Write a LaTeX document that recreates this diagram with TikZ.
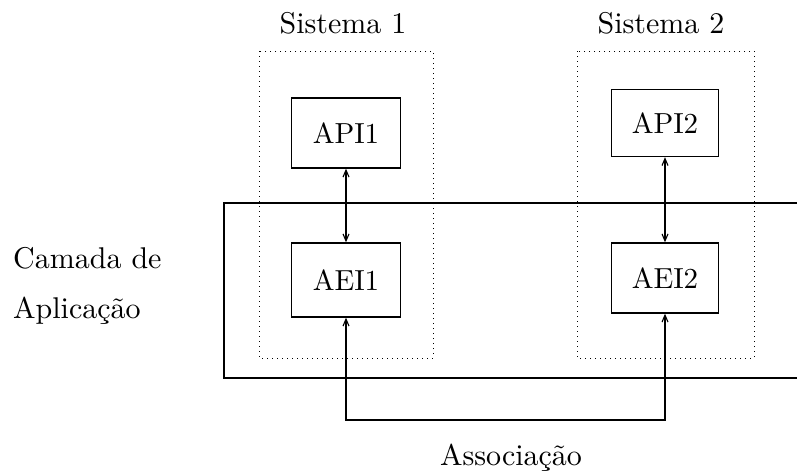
\documentclass[tikz,border=0pt]{standalone}
\usepackage{fontspec}
\newfontfamily\labelfont{lmroman10-regular.otf}
\usetikzlibrary{arrows.meta}
\begin{document}
\begin{tikzpicture}[x=1pt,y=-1pt,
  txt/.style={font=\labelfont\fontsize{30}{36}\selectfont, inner sep=0pt},
  module/.style={draw, line width=1.4pt, inner sep=0pt, font=\labelfont\fontsize{29}{36}\selectfont},
  sysbox/.style={draw, line width=1pt, dash pattern=on 1pt off 4pt},
  layer/.style={draw, line width=1.4pt},
  link/.style={line width=1.1pt, {Straight Barb[length=7pt,width=6pt]}-{Straight Barb[length=7pt,width=6pt]}}]
  \useasboundingbox (0,0) rectangle (797,474);
  \clip (0,0) rectangle (797,474);

  % system boundaries
  \draw[sysbox] (259,51) rectangle (433,358);
  \draw[sysbox] (577,51) rectangle (754,358);

  % application layer (runs off to the right)
  \draw[layer] (820,203) -- (224,203) -- (224,378) -- (820,378);

  % system titles
  \node[txt, anchor=base] (s1) at (343,33) {Sistema 1};
  \node[txt, anchor=base] (s2) at (661,33) {Sistema 2};

  % layer caption
  \node[txt, anchor=base west] (cam) at (13,268) {Camada de};
  \node[txt, anchor=base west] (apl) at (13,318) {Aplicação};

  % modules
  \node[module, minimum width=109pt, minimum height=70pt] (api1) at (346,133) {API1};
  \node[module, minimum width=107pt, minimum height=67pt] (api2) at (665,123) {API2};
  \node[module, minimum width=109pt, minimum height=74pt] (aei1) at (346,280) {AEI1};
  \node[module, minimum width=107pt, minimum height=70pt] (aei2) at (665,278) {AEI2};

  % vertical links
  \draw[link] (api1.south) -- (aei1.north);
  \draw[link] (api2.south) -- (aei2.north);

  % association between the two entities
  \coordinate (bl) at (aei1.south |- 0,420);
  \draw[link] (aei1.south) -- (bl) -| (aei2.south);

  \node[txt, anchor=base] (assoc) at (511,465) {Associação};
\end{tikzpicture}
\end{document}
